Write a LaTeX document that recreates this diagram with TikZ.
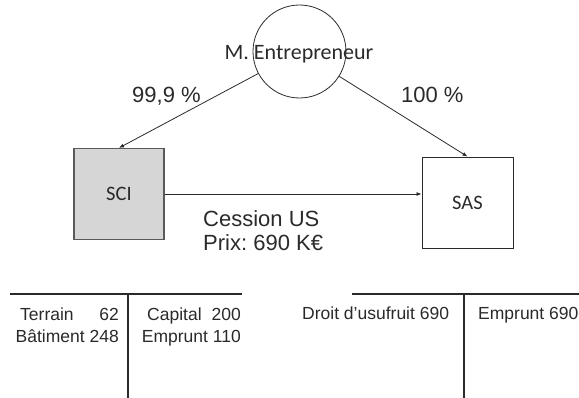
\documentclass[tikz,border=0pt]{standalone}
\usepackage{fontspec}
\setmainfont{Liberation Sans}
\newfontfamily\calibfont{Carlito}
\usetikzlibrary{arrows.meta}
\definecolor{ink}{HTML}{2A2A2A}
\definecolor{scifill}{HTML}{D6D6D6}
\definecolor{sciedge}{HTML}{5A5A5A}
\frenchspacing
\begin{document}
\begin{tikzpicture}[x=1pt,y=-1pt,
  lbl/.style={inner sep=0pt,font=\fontsize{22}{24}\selectfont,text=ink},
  small/.style={inner sep=0pt,font=\fontsize{17.5}{20}\selectfont,text=ink},
  boxlbl/.style={font=\calibfont\fontsize{20.5}{22}\selectfont,text=ink},
  arr/.style={draw=ink,line width=0.8pt,-{Latex[length=5pt,width=4pt]}},
  ledger/.style={draw=ink,line width=1.1pt}]
\useasboundingbox (0,0) rectangle (579,398);
% owner
\node[circle,draw=ink,line width=0.8pt,minimum size=93pt,inner sep=0pt] (ent) at (299.5,51.5) {};
\node[inner sep=0pt,anchor=base,font=\calibfont\fontsize{22}{24}\selectfont,text=ink] (entlbl) at (299,60) {M. Entrepreneur};
% companies
\node[draw=sciedge,fill=scifill,line width=1.2pt,minimum width=90pt,minimum height=91pt,boxlbl] (sci) at (119,194) {SCI};
\node[draw=ink,line width=0.9pt,minimum width=91pt,minimum height=91pt,boxlbl] (sas) at (467.5,202.5) {SAS};
% connectors
\draw[arr] (ent) -- (sci.north);
\draw[arr] (ent) -- (sas.north);
\draw[arr] (sci.east) -- (sci.east -| sas.west);
% labels
\node[lbl,anchor=base west] (p1) at (132,103) {99,9 \%};
\node[lbl,anchor=base west] (p2) at (401,103) {100 \%};
\node[lbl,anchor=base west] (c1) at (203,227) {Cession US};
\node[lbl,anchor=base west] (c2) at (203,251) {Prix: 690 K€};
% ledgers
\coordinate (l1a) at (10,294);
\coordinate (l1b) at (242,294);
\coordinate (l1t) at (128,294);
\coordinate (l1d) at (128,398);
\coordinate (l2a) at (352,294);
\coordinate (l2b) at (579,294);
\coordinate (l2t) at (464,294);
\coordinate (l2d) at (464,398);
\draw[ledger] (l1a) -- (l1b);
\draw[ledger] (l1t) -- (l1d);
\draw[ledger] (l2a) -- (l2b);
\draw[ledger] (l2t) -- (l2d);
\node[small,anchor=base west] (t1) at (20,321) {Terrain};
\node[small,anchor=base east] (t1v) at (119,321) {62};
\node[small,anchor=base east] (t2) at (119,343) {Bâtiment 248};
\node[small,anchor=base west] (t3) at (147,321) {Capital};
\node[small,anchor=base east] (t3v) at (241,321) {200};
\node[small,anchor=base east] (t4) at (241,343) {Emprunt 110};
\node[small,anchor=base west] (t5) at (302,320) {Droit d'usufruit 690};
\node[small,anchor=base west] (t6) at (478,320) {Emprunt 690};
\end{tikzpicture}
\end{document}
